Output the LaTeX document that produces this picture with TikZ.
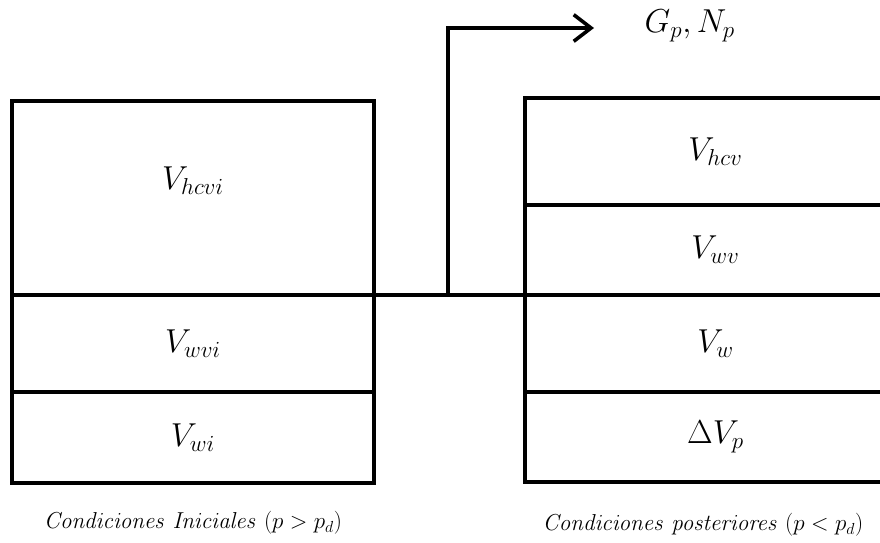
\documentclass[tikz,border=0pt]{standalone}
\usetikzlibrary{arrows.meta,calc}
\begin{document}
\begin{tikzpicture}[x=0.75pt,y=-0.75pt,
  cell/.style={draw,line width=2.7pt,rectangle,inner sep=0pt,outer sep=0pt,
    font=\fontsize{23.5}{28}\selectfont},
  lcell/.style={cell,minimum width=271.5pt},
  rcell/.style={cell,minimum width=285.75pt},
  wire/.style={line width=2.7pt},
  caption/.style={font=\fontsize{17.5}{21}\selectfont,inner sep=0pt}]
\useasboundingbox (0,0) rectangle (880,542);
\clip (0,0) rectangle (880,542);

% initial state column
\node[lcell,minimum height=145.5pt] (hcvi) at (193,198) {};
\node[lcell,minimum height=72.75pt] (wvi) at (193,343.5) {$V_{wvi}$};
\node[lcell,minimum height=68.25pt] (wi) at (193,437.5) {$V_{wi}$};
\node[font=\fontsize{23.5}{28}\selectfont] (hcvilab) at (193,181) {$V_{hcvi}$};

% later state column
\node[rcell,minimum height=80.25pt] (hcv) at (715.5,151.5) {$V_{hcv}$};
\node[rcell,minimum height=67.5pt] (wv) at (715.5,250) {$V_{wv}$};
\node[rcell,minimum height=72.75pt] (w) at (715.5,343.5) {$V_{w}$};
\node[rcell,minimum height=67.5pt] (dvp) at (715.5,437) {$\Delta V_{p}$};

% link between the columns and the produced gas/oil output
\draw[wire] (wvi.north east) -- (w.north west);
\coordinate (tap) at ($(wvi.north east)!0.49!(w.north west)$);
\coordinate (tip) at (594,28);
\draw[wire,-{Straight Barb[length=13pt,width=20pt]}] (tap) |- (tip);
\node[font=\fontsize{23.5}{28}\selectfont,anchor=west] (gn) at (640,26) {$G_p, N_p$};

% captions
\node[caption] (capl) at (193,523) {$\mathit{Condiciones\ Iniciales}\ (p > p_d)$};
\node[caption] (capr) at (703,525) {$\mathit{Condiciones\ posteriores}\ (p < p_d)$};
\end{tikzpicture}
\end{document}
